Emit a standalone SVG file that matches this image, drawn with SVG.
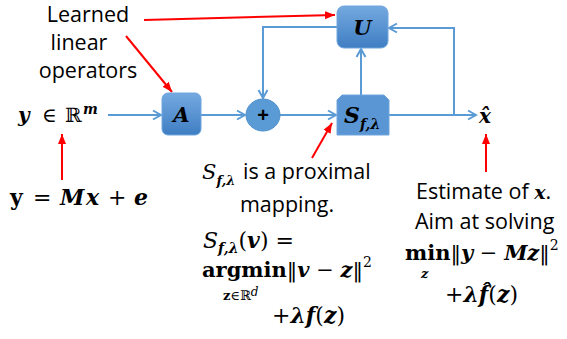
<svg xmlns="http://www.w3.org/2000/svg" width="567" height="339" viewBox="0 0 567 339">
<style>
.sans{font-family:"Open Sans","Noto Sans","Liberation Sans",sans-serif;font-size:21.5px;fill:#000}
.m{font-family:"DejaVu Serif","Liberation Serif",serif;fill:#000}
.bi{font-weight:bold;font-style:italic}
.b{font-weight:bold}
.it{font-style:italic}
.blue{stroke:#5b9bd5;stroke-width:2;fill:none}
.red{stroke:#ff0000;stroke-width:2;fill:none}
.box{fill:url(#g);stroke:#6ea6de;stroke-width:1}
</style>
<defs>
<linearGradient id="g" x1="0" y1="0" x2="0" y2="1">
<stop offset="0" stop-color="#74a9e0"/>
<stop offset="1" stop-color="#3f7ec3"/>
</linearGradient>
<marker id="ab" markerUnits="userSpaceOnUse" markerWidth="12" markerHeight="12" refX="10" refY="6" orient="auto">
<path d="M2,1.5 L10,6 L2,10.5" fill="none" stroke="#5b9bd5" stroke-width="2"/>
</marker>
<marker id="ar" markerUnits="userSpaceOnUse" markerWidth="10" markerHeight="10" refX="10" refY="5" orient="auto">
<path d="M0,1 L10,5 L0,9 Z" fill="#ff0000"/>
</marker>
</defs>

<g id="connectors">
<path class="blue" d="M108,115 H161" marker-end="url(#ab)"/>
<path class="blue" d="M201,115 H245" marker-end="url(#ab)"/>
<path class="blue" d="M280,115 H336" marker-end="url(#ab)"/>
<path class="blue" d="M389,115 H476" marker-end="url(#ab)"/>
<path class="blue" d="M454,115 V28 H389" marker-end="url(#ab)"/>
<path class="blue" d="M337,27 H263 V98" marker-end="url(#ab)"/>
<path class="blue" d="M361,95 V49" marker-end="url(#ab)"/>
<path class="red" d="M144,20 L335,15" marker-end="url(#ar)"/>
<path class="red" d="M126,36 L172,92" marker-end="url(#ar)"/>
<path class="red" d="M62,180 V134" marker-end="url(#ar)"/>
<path class="red" d="M312,158 L332,123" marker-end="url(#ar)"/>
<path class="red" d="M486,172 V134" marker-end="url(#ar)"/>
</g>

<g id="node-A">
<rect class="box" x="162" y="93" width="39" height="42" rx="6"/>
<text class="m bi" x="181.5" y="122" font-size="21" text-anchor="middle">A</text>
</g>

<g id="node-plus">
<ellipse cx="263" cy="115" rx="17" ry="16" fill="#5b9bd5" stroke="#4f8fcc" stroke-width="1"/>
<text x="263" y="122" font-family="Liberation Sans, Arial, sans-serif" font-weight="bold" font-size="20" text-anchor="middle">+</text>
</g>

<g id="node-U">
<rect class="box" x="337" y="6" width="51" height="42" rx="7"/>
<text class="m bi" x="362.5" y="35" font-size="21" text-anchor="middle">U</text>
</g>

<g id="node-S">
<path d="M342,95 H384 L389,100 V135 H337 V100 Z" fill="#5a95d4" stroke="#6ea6de" stroke-width="1"/>
<text class="m bi" x="344" y="123" font-size="22">S<tspan font-size="14" dy="6">f,λ</tspan></text>
</g>

<g id="node-xhat">
<text class="m bi" x="479" y="123" font-size="20">x&#x302;</text>
</g>

<g id="label-learned">
<text class="sans" x="88" y="22" text-anchor="middle">Learned</text>
<text class="sans" x="79" y="50" text-anchor="middle">linear</text>
<text class="sans" x="88" y="78" text-anchor="middle">operators</text>
</g>

<g id="node-y">
<text class="m" y="122" font-size="20"><tspan class="bi" x="18">y</tspan><tspan x="42">∈</tspan><tspan x="65">ℝ</tspan><tspan class="bi" x="83" dy="-8" font-size="14">m</tspan></text>
</g>

<g id="label-model">
<text class="m" y="205" font-size="22"><tspan class="b" x="10">y</tspan><tspan x="33">=</tspan><tspan class="bi" x="60">M</tspan><tspan class="bi" x="86">x</tspan><tspan x="108">+</tspan><tspan class="bi" x="134">e</tspan></text>
</g>

<g id="label-prox">
<text x="202" y="179"><tspan class="m it" font-size="21">S</tspan><tspan class="m bi" font-size="13" dy="6">f,λ</tspan><tspan class="sans" x="243" dy="-6">is a proximal</tspan></text>
<text class="sans" x="287" y="212" text-anchor="middle">mapping.</text>
<text class="m" x="203" y="248" font-size="22"><tspan class="it">S</tspan><tspan class="bi" font-size="14" dy="5">f,λ</tspan><tspan dy="-5">(</tspan><tspan class="bi">v</tspan>) =</text>
<text class="m" x="202" y="277" font-size="21"><tspan class="b">argmin</tspan>‖<tspan class="bi">v</tspan> − <tspan class="bi">z</tspan>‖<tspan dy="-10" font-size="14">2</tspan></text>
<text class="m" x="223" y="300" font-size="13"><tspan class="b">z</tspan>∈ℝ<tspan class="it" dy="-4" font-size="12">d</tspan></text>
<text class="m" x="272" y="323" font-size="22">+<tspan class="bi">λf</tspan>(<tspan class="bi">z</tspan>)</text>
</g>

<g id="label-estimate">
<text class="sans" x="416" y="199">Estimate of <tspan class="m bi" font-size="19">x</tspan>.</text>
<text class="sans" x="415" y="229">Aim at solving</text>
<text class="m" x="405" y="260" font-size="21"><tspan class="b">min</tspan>‖<tspan class="bi">y</tspan> − <tspan class="bi">Mz</tspan>‖<tspan dy="-10" font-size="14">2</tspan></text>
<text class="m bi" x="421" y="278" font-size="13">z</text>
<text class="m" x="445" y="302" font-size="22">+<tspan class="bi">λf&#x302;</tspan>(<tspan class="bi">z</tspan>)</text>
</g>
</svg>
